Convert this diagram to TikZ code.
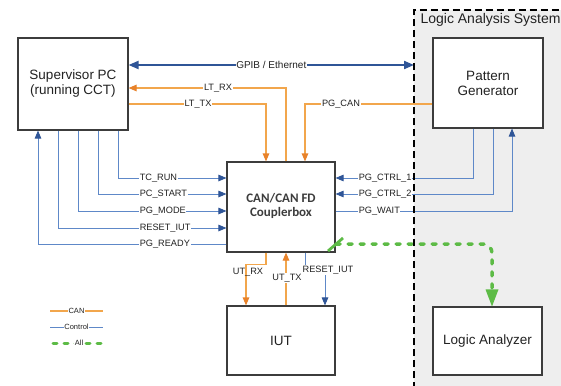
\documentclass[tikz,border=0pt]{standalone}
\usepackage{fontspec}
\setmainfont{Liberation Sans}
\newfontfamily\cbfont{Carlito}
\usetikzlibrary{arrows.meta}

\definecolor{canline}{HTML}{F2A64C}
\definecolor{cantip}{HTML}{E8822A}
\definecolor{ctlline}{HTML}{5E88C8}
\definecolor{ctltip}{HTML}{2F5597}
\definecolor{gpibblue}{HTML}{2F5597}
\definecolor{allgreen}{HTML}{5DBB46}
\definecolor{lasfill}{HTML}{EEEEEE}
\definecolor{boxline}{HTML}{3C3C3C}
\definecolor{txt}{HTML}{222222}

\tikzset{
  blockbox/.style={draw=boxline, line width=1.1pt, fill=white, inner sep=0pt,
    align=center, text=txt, font=\fontsize{13.5}{15}\selectfont},
  canlink/.style={draw=canline, line width=1.1pt},
  ctllink/.style={draw=ctlline, line width=0.9pt},
  canarrow/.style={-{Triangle[length=8pt,width=6.5pt,color=cantip]}},
  ctlarrow/.style={-{Triangle[length=8pt,width=6.5pt,color=ctltip]}},
  gpiblink/.style={draw=gpibblue, line width=2pt,
    {Triangle[length=10pt,width=8pt]}-{Triangle[length=10pt,width=8pt]}},
  alllink/.style={draw=allgreen, line width=3.5pt, line cap=round,
    dash pattern=on 4pt off 8pt},
  sig/.style={font=\fontsize{9.2}{10}\selectfont, text=txt, fill=white, inner sep=0.6pt},
  sigw/.style={sig, anchor=west},
  legendlbl/.style={font=\fontsize{7.5}{8}\selectfont, text=txt, fill=white, inner sep=0.8pt},
  boundary/.style={draw=black, line width=1.4pt, dash pattern=on 7pt off 4pt}
}

\begin{document}
\begin{tikzpicture}[x=1pt, y=-1pt]
\useasboundingbox (0,0) rectangle (561,385);
\fill[white] (0,0) rectangle (561,385);

% shaded area of the logic analysis system
\node[fill=lasfill, inner sep=0pt, minimum width=160pt, minimum height=390pt,
      anchor=north west] (las) at (414,10) {};
\node[anchor=west, text=txt, font=\fontsize{14}{15}\selectfont] (lastitle) at (417,20) {Logic Analysis System};

% blocks
\node[blockbox, minimum width=110pt, minimum height=92pt] (sup) at (73,84) {Supervisor PC\\(running CCT)};
\node[blockbox, minimum width=110pt, minimum height=90pt] (pg) at (488,83) {Pattern\\Generator};
\node[blockbox, minimum width=108pt, minimum height=90pt, font=\cbfont\bfseries\fontsize{13}{14}\selectfont,
      text=boxline] (cb) at (281,207) {\raisebox{3pt}{\begin{tabular}{@{}c@{}}CAN/CAN FD\\Couplerbox\end{tabular}}};
\node[blockbox, minimum width=108pt, minimum height=69pt] (iut) at (281,340.5) {IUT};
\node[blockbox, minimum width=109pt, minimum height=68pt] (la) at (487.5,341) {Logic Analyzer};

% GPIB / Ethernet
\draw[gpiblink] (sup.east |- 0,65) -- (las.west |- 0,65)
  node[midway, sig, font=\fontsize{10}{11}\selectfont] (gpiblbl) {GPIB / Ethernet};

% CAN links at the top
\draw[canlink, canarrow] ([xshift=5pt]cb.north) |- (sup.east |- 0,88);
\node[sig] (ltrx) at (218,88) {LT\_RX};
\draw[canlink, canarrow] (sup.east |- 0,104) -| ([xshift=-15pt]cb.north);
\node[sig] (lttx) at (198,104) {LT\_TX};
\draw[canlink, canarrow] (pg.west |- 0,104) -| ([xshift=24pt]cb.north);
\node[sig] (pgcan) at (341,104) {PG\_CAN};

% control links from the supervisor
\draw[ctllink, ctlarrow] (sup.south -| 118,0) |- (cb.west |- 0,178);
\node[sigw] (tcrun) at (139,178) {TC\_RUN};
\draw[ctllink, ctlarrow] (sup.south -| 98,0) |- (cb.west |- 0,194);
\node[sigw] (pcstart) at (139,194) {PC\_START};
\draw[ctllink, ctlarrow] (sup.south -| 78,0) |- (cb.west |- 0,211);
\node[sigw] (pgmode) at (139,211) {PG\_MODE};
\draw[ctllink, ctlarrow] (sup.south -| 58,0) |- (cb.west |- 0,228);
\node[sigw] (resetl) at (139,228) {RESET\_IUT};
\draw[ctllink, ctlarrow] (cb.west |- 0,244) -| (sup.south -| 38,0);
\node[sigw] (pgready) at (139,244) {PG\_READY};

% control links from the pattern generator
\draw[ctllink, ctlarrow] ([xshift=-15pt]pg.south) |- (cb.east |- 0,178);
\node[sigw] (ctrl1) at (358,178) {PG\_CTRL\_1};
\draw[ctllink, ctlarrow] ([xshift=5pt]pg.south) |- (cb.east |- 0,194);
\node[sigw] (ctrl2) at (358,194) {PG\_CTRL\_2};
\draw[ctllink, ctlarrow] (cb.east |- 0,211) -| ([xshift=24pt]pg.south);
\node[sigw] (pgwait) at (358,211) {PG\_WAIT};

% links to the IUT
\draw[canlink, canarrow] ([xshift=-15pt]cb.south) -- ++(0,12) -| ([xshift=-35pt]iut.north);
\node[sig, fill=none] (utrx) at (248,272) {UT\_RX};
\draw[canlink, canarrow] ([xshift=5pt]iut.north) -- ([xshift=5pt]cb.south);
\node[sig] (uttx) at (287,278) {UT\_TX};
\draw[ctllink, ctlarrow] ([xshift=24pt]cb.south) -- ++(0,13) -| ([xshift=44pt]iut.north);
\node[sig] (reseti) at (328,270) {RESET\_IUT};

% tap of all signals to the logic analyzer
\coordinate (tap) at (336,244);
\draw[alllink, rounded corners=9pt] (tap) -| ([xshift=4.5pt,yshift=16pt]la.north);
\fill[allgreen] ([xshift=4.5pt]la.north) -- ++(-6.5,-17) -- ++(13,0) -- cycle;
\draw[allgreen, line width=2.8pt] ([shift={(-8,7)}]tap) -- ([shift={(7,-6)}]tap);

% border of the logic analysis system
\draw[boundary] (las.south west) -- (las.north west) -- (las.north east);

% legend
\draw[canlink] (50,311) -- (103,311) node[midway, legendlbl] (lgcan) {CAN};
\draw[ctllink] (50,327) -- (103,327) node[midway, legendlbl] (lgctl) {Control};
\draw[allgreen, line width=3pt, line cap=round, dash pattern=on 4pt off 7pt] (53,343) -- (103,343);
\node[legendlbl] (lgall) at (79,343) {All};
\end{tikzpicture}
\end{document}
